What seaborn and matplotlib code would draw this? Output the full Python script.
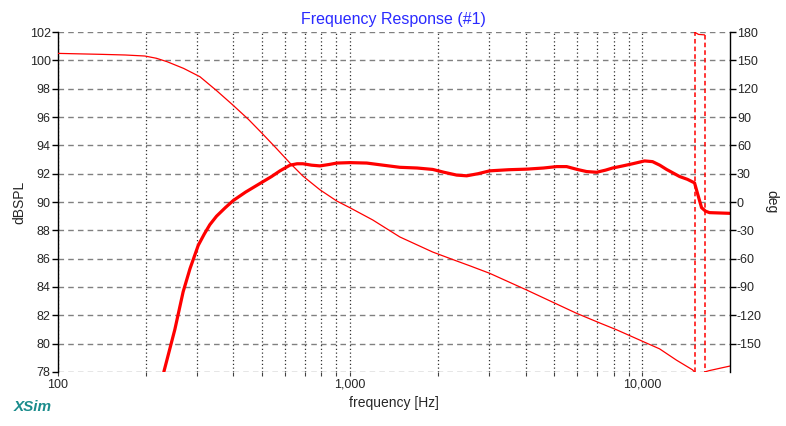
# Frequency response (XSim style) - magnitude and phase on twin axes

import numpy as np
import seaborn as sns
import matplotlib.pyplot as plt
from matplotlib.ticker import FixedLocator, FuncFormatter, NullFormatter

# magnitude (thick line)
mag_freq = [231, 252, 269, 284, 303, 318, 332, 350, 375, 399, 440, 492, 540, 577, 624,
            660, 691, 740, 790, 850, 903, 1000, 1143, 1300, 1483, 1700, 1922, 2100, 2322,
            2512, 2750, 3010, 3500, 4029, 4600, 5102, 5520, 6000, 6461, 6988, 7500, 7928,
            8600, 9280, 10200, 10860, 11500, 12130, 13440, 14300, 15120, 15480, 15980,
            16500, 17010, 20000]
mag_db = [78.0, 81.0, 83.66, 85.3, 86.94, 87.75, 88.4, 89.0, 89.6, 90.1, 90.7, 91.3,
          91.8, 92.2, 92.6, 92.7, 92.7, 92.6, 92.55, 92.65, 92.75, 92.78, 92.75, 92.6,
          92.45, 92.4, 92.3, 92.1, 91.9, 91.85, 92.0, 92.2, 92.28, 92.32, 92.4, 92.5,
          92.5, 92.3, 92.15, 92.1, 92.25, 92.4, 92.55, 92.7, 92.9, 92.85, 92.6, 92.3,
          91.8, 91.6, 91.35, 90.6, 89.6, 89.35, 89.25, 89.2]

# phase (thin line), three pieces between the wraps
ph1_freq = [100, 140, 170, 199, 218, 237, 270, 307, 350, 398, 450, 500, 560, 624, 691,
            790, 903, 1000, 1198, 1483, 1922, 2300, 2572, 3010, 4029, 5972, 7154, 8180,
            10360, 11480, 13120, 14880, 15120]
ph1_deg = [157.4, 156.4, 155.7, 154.6, 152.2, 148.6, 141.5, 132.7, 118, 102.7, 87.5, 73,
           57, 41.3, 27.5, 13, 1, -6, -19, -37, -53, -62, -67.5, -75.5, -93.2, -117.9,
           -128, -135.3, -149.4, -155.5, -167.5, -177.7, -180]
ph2_freq = [15120, 15590, 16360]
ph2_deg = [180, 177.5, 177]
ph3_freq = [16360, 17010, 18500, 20000]
ph3_deg = [-180, -178.5, -176, -173.7]

red = '#ff0000'

sns.set_style("white")
plt.rcParams['font.family'] = ['Liberation Sans', 'DejaVu Sans']
plt.rcParams['axes.unicode_minus'] = False

fig = plt.figure(figsize=(7.86, 4.26), dpi=100)
ax = fig.add_axes([0.0732, 0.1268, 0.8556, 0.798])
ax.set_xscale('log')

sns.lineplot(x=mag_freq, y=mag_db, ax=ax, color=red, linewidth=2.3, estimator=None)
ax.set_ylim(78, 102)
ax.set_yticks(np.arange(78, 103, 2))

ax.set_axisbelow(True)
ax.grid(axis='y', color='#808080', linestyle=(0, (4, 3)), linewidth=1)
ax.grid(axis='x', which='both', color='#303030', linestyle=(0, (1, 2)), linewidth=0.9)

for s in ('top', 'bottom', 'right'):
    ax.spines[s].set_visible(False)
ax.spines['left'].set_color('black')
ax.spines['left'].set_linewidth(1)

ax.tick_params(axis='y', direction='out', length=4, width=1, color='black',
               labelsize=9, left=True, pad=1)
ax.tick_params(axis='x', which='both', direction='out', length=3, width=0.8,
               color='#404040', labelsize=9, bottom=True, pad=2)

ax.set_xlabel('frequency [Hz]', fontsize=10, labelpad=4)
ax.set_ylabel('dBSPL', fontsize=10, labelpad=2)
ax.set_title('Frequency Response (#1)', color='#2a2aff', fontsize=11.5, pad=6)

# phase axis (shares x with ax)
ax2 = ax.twinx()
for fq, dg in ((ph1_freq, ph1_deg), (ph2_freq, ph2_deg), (ph3_freq, ph3_deg)):
    sns.lineplot(x=fq, y=dg, ax=ax2, color=red, linewidth=0.9, estimator=None)
# dashed wrap connectors between the pieces
ax2.vlines([ph1_freq[-1], ph2_freq[-1]], [ph1_deg[-1], ph2_deg[-1]],
           [ph2_deg[0], ph3_deg[0]], colors=red, linestyles=(0, (3, 2)), linewidth=1.1)
ax2.set_ylim(-180, 180)
ax2.set_yticks(np.arange(-150, 181, 30))
ax2.grid(False)
for s in ('top', 'bottom', 'left'):
    ax2.spines[s].set_visible(False)
ax2.spines['right'].set_color('black')
ax2.spines['right'].set_linewidth(1)
ax2.tick_params(axis='y', direction='out', length=4, width=1, color='black',
                labelsize=9, right=True, pad=1)
ax2.set_ylabel('deg', fontsize=10, rotation=270, labelpad=12)

# x axis ticks set last so nothing resets them
ax.set_xlim(100, 20000)
major = [100, 1000, 10000]
minor = [m * d for d in (100, 1000) for m in range(2, 10)]
ax.xaxis.set_major_locator(FixedLocator(major))
ax.xaxis.set_minor_locator(FixedLocator(minor))
ax.xaxis.set_major_formatter(FuncFormatter(lambda v, p: f"{int(v):,}"))
ax.xaxis.set_minor_formatter(NullFormatter())

fig.text(0.018, 0.035, 'XSim', color='#1a8c8c', fontsize=11, fontweight='bold',
         fontstyle='italic')

fig.savefig('out.png', dpi=100)
